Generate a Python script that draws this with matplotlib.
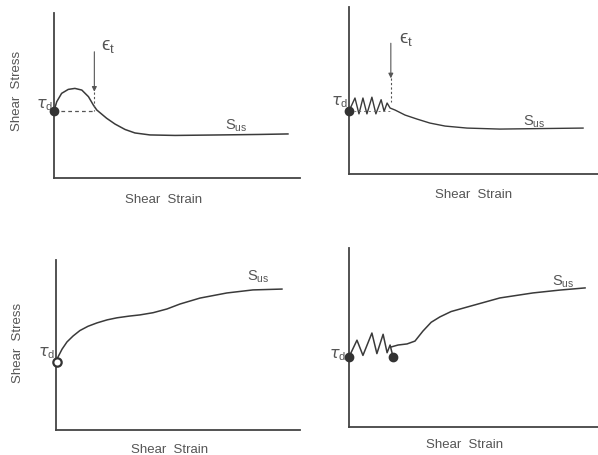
import matplotlib
matplotlib.use('Agg')
import matplotlib.pyplot as plt

plt.rcParams['font.family'] = ['Liberation Sans', 'DejaVu Sans']
plt.rcParams['mathtext.fontset'] = 'dejavusans'

LINE = '#3a3a3a'
TEXT = '#555555'

# Panel A: strain-softening with peak, then steady state
a_x = [0, .011, .031, .058, .085, .113, .140, .160, .174, .214, .248, .289, .329, .390, .492, .675, .837, .951]
a_y = [.406, .462, .513, .537, .543, .533, .493, .442, .412, .362, .327, .294, .273, .261, .258, .261, .264, .267]
a_tau = .406
a_eps_x = .164

# Panel B: cyclic loading then softening
b_x = [0, .024, .040, .056, .072, .092, .108, .129, .141, .153, .165, .185, .225, .273, .325,
       .386, .474, .606, .767, .94]
b_y = [.377, .455, .36, .455, .36, .46, .36, .445, .375, .425, .395, .383, .353, .329, .305,
       .287, .275, .269, .272, .275]
b_tau = .377
b_eps_x = .168

# Panel C: strain-hardening from tau_d
c_x = [.004, .008, .025, .045, .07, .098, .131, .168, .21, .25, .30, .344, .398, .455, .508, .59, .70, .807, .926]
c_y = [.40, .429, .476, .518, .553, .585, .610, .630, .648, .660, .670, .677, .690, .712, .741, .776, .806, .824, .829]

# Panel D: cyclic loading then hardening
d_zig_x = [0, .032, .056, .092, .112, .137, .153, .165, .177]
d_zig_y = [.391, .485, .400, .525, .410, .518, .415, .458, .391]
d_x = [.169, .197, .233, .265, .297, .33, .365, .41, .474, .606, .739, .847, .948]
d_y = [.447, .458, .464, .480, .536, .585, .615, .645, .670, .721, .749, .765, .777]

fig = plt.figure(figsize=(5.98, 4.55), dpi=100)


def make_axes(rect):
    ax = fig.add_axes(rect)
    ax.set_xlim(0, 1)
    ax.set_ylim(0, 1)
    for s in ['top', 'right']:
        ax.spines[s].set_visible(False)
    for s in ['left', 'bottom']:
        ax.spines[s].set_color('#444444')
        ax.spines[s].set_linewidth(1.3)
    ax.set_xticks([])
    ax.set_yticks([])
    ax.patch.set_alpha(0)
    return ax


def labels(ax, tau_xy, sus_xy, strain_xy, stress_xy=None):
    ax.text(*tau_xy, r'$\tau_{\mathregular{d}}$', fontsize=11.5, color=TEXT,
            ha='right', va='center')
    ax.text(*sus_xy, r'S$_{\mathregular{us}}$', fontsize=10.5, color=TEXT,
            ha='center', va='center')
    ax.text(*strain_xy, 'Shear  Strain', fontsize=9.5, color=TEXT,
            ha='center', va='center', transform=ax.transAxes)
    if stress_xy is not None:
        ax.text(*stress_xy, 'Shear  Stress', fontsize=9.5, color=TEXT,
                ha='center', va='center', rotation=90, transform=ax.transAxes)


def eps_arrow(ax, x, top, tip, dash_to, txt_xy):
    ax.annotate('', xy=(x, tip), xytext=(x, top),
                arrowprops=dict(arrowstyle='-|>', color='#555555', lw=0.8,
                                mutation_scale=7, shrinkA=0, shrinkB=0))
    ax.plot([x, x], [tip, dash_to], color='#555555', lw=0.8, ls=(0, (2, 2)))
    ax.text(*txt_xy, r'ϵ$_{\mathregular{t}}$', fontsize=13.5, color=TEXT,
            ha='left', va='center')


# A
ax1 = make_axes([54 / 598, (455 - 178) / 455, 246 / 598, 165 / 455])
ax1.plot(a_x, a_y, color=LINE, lw=1.1)
ax1.plot([0, a_eps_x], [a_tau, a_tau], color='#555555', lw=0.9, ls=(0, (3, 2.5)))
eps_arrow(ax1, a_eps_x, .765, .523, a_tau, (.19, .79))
ax1.plot(a_x[0], a_y[0], 'o', color='#333333', ms=6, clip_on=False, zorder=5)
labels(ax1, (-.002, .44), (.74, .315), (.445, -.133), (-.15, .53))

# B
ax2 = make_axes([349 / 598, (455 - 174) / 455, 249 / 598, 167 / 455])
ax2.plot(b_x, b_y, color=LINE, lw=1.0)
ax2.plot([0, b_eps_x], [b_tau, b_tau], color='#777777', lw=0.7, ls=(0, (2, 3)))
eps_arrow(ax2, b_eps_x, .783, .573, .43, (.20, .80))
ax2.plot(b_x[0], b_y[0], 'o', color='#333333', ms=6, clip_on=False, zorder=5)
labels(ax2, (-.002, .43), (.743, .311), (.50, -.125))

# C
ax3 = make_axes([56 / 598, (455 - 430) / 455, 244 / 598, 170 / 455])
ax3.plot(c_x, c_y, color=LINE, lw=1.1)
ax3.plot(c_x[0], c_y[0], 'o', mfc='white', mec='#333333', mew=1.6, ms=6,
         clip_on=False, zorder=5)
labels(ax3, (-.005, .45), (.83, .9), (.467, -.118), (-.156, .51))

# D
ax4 = make_axes([349 / 598, (455 - 427) / 455, 249 / 598, 179 / 455])
ax4.plot(d_zig_x, d_zig_y, color=LINE, lw=1.1)
ax4.plot(d_x, d_y, color=LINE, lw=1.1)
ax4.plot([d_zig_x[0], d_zig_x[-1]], [d_zig_y[0], d_zig_y[-1]], 'o', color='#333333',
         ms=6, clip_on=False, zorder=5)
labels(ax4, (-.01, .40), (.86, .81), (.466, -.10))

fig.savefig('out.png', dpi=100, facecolor='white')
